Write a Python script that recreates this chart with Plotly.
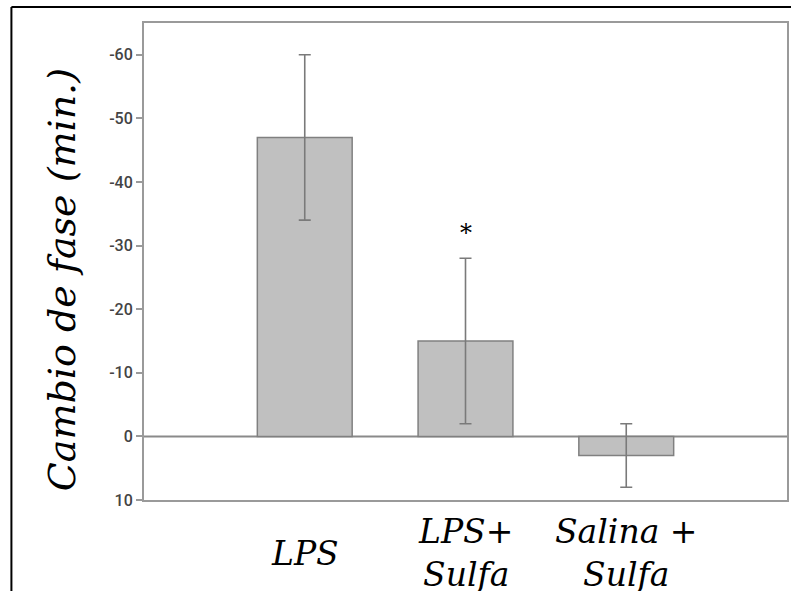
import plotly.graph_objects as go

categories = ["LPS", "LPS+<br>Sulfa", "Salina +<br>Sulfa"]
values = [-47, -15, 3]
errors = [13, 13, 5]
tick_vals = [-60, -50, -40, -30, -20, -10, 0, 10]
tick_text = ["-60", "-50", "-40", "-30", "-20", "-10", "0", "10"]
star_pos = (1, -32)

W, H = 791, 591
L, R, T, B = 144, 2, 23, 91
pw, ph = W - L - R, H - T - B
SERIF = "DejaVu Serif"

def px_x(p):
    return (p - L) / pw

def px_y(p):
    return (H - B - p) / ph

fig = go.Figure()
fig.add_trace(go.Bar(
    x=list(range(len(categories))), y=values, width=0.59,
    marker=dict(color="#c0c0c0", line=dict(color="#808080", width=1.5)),
    error_y=dict(type="data", array=errors, visible=True, color="#7a7a7a",
                 thickness=1.6, width=6),
))

annotations = []
for i, c in enumerate(categories):
    annotations.append(dict(x=i, xref="x", y=px_y(553), yref="paper",
                            text=c,
                            showarrow=False, xanchor="center", yanchor="middle",
                            font=dict(family=SERIF, size=33, color="black", style="italic")))
annotations.append(dict(x=star_pos[0], y=star_pos[1], xref="x", yref="y", text="*",
                        showarrow=False, xanchor="center", yanchor="middle",
                        font=dict(family=SERIF, size=24, color="black")))
annotations.append(dict(x=px_x(62), y=px_y(280), xref="paper", yref="paper",
                        text="Cambio de fase (min.)", textangle=-90,
                        showarrow=False, xanchor="center", yanchor="middle",
                        font=dict(family=SERIF, size=38, color="black", style="italic")))

shapes = [
    dict(type="line", xref="paper", yref="paper", x0=px_x(11), x1=px_x(11),
         y0=px_y(600), y1=px_y(7), line=dict(color="black", width=2)),
    dict(type="line", xref="paper", yref="paper", x0=px_x(11), x1=px_x(800),
         y0=px_y(7), y1=px_y(7), line=dict(color="black", width=2)),
    dict(type="line", xref="paper", yref="y", x0=0, x1=1, y0=0, y1=0,
         line=dict(color="#8a8a8a", width=2), layer="below"),
]

fig.update_layout(
    width=W, height=H,
    margin=dict(l=L, r=R, t=T, b=B),
    paper_bgcolor="white", plot_bgcolor="white",
    showlegend=False,
    annotations=annotations,
    shapes=shapes,
    xaxis=dict(range=[-1, 3], showticklabels=False, ticks="", showgrid=False,
               zeroline=False, showline=True, mirror=True, linecolor="#9a9a9a",
               linewidth=2, fixedrange=True),
    yaxis=dict(range=[10, -65], tickvals=tick_vals, ticktext=tick_text,
               ticks="outside", ticklen=6, tickcolor="#9a9a9a", tickwidth=1.5,
               showgrid=False, zeroline=False, showline=True, mirror=True,
               linecolor="#9a9a9a", linewidth=2,
               tickfont=dict(family="Roboto", size=16, color="#444444", weight=500),
               fixedrange=True),
)

fig.write_html("out.html")
